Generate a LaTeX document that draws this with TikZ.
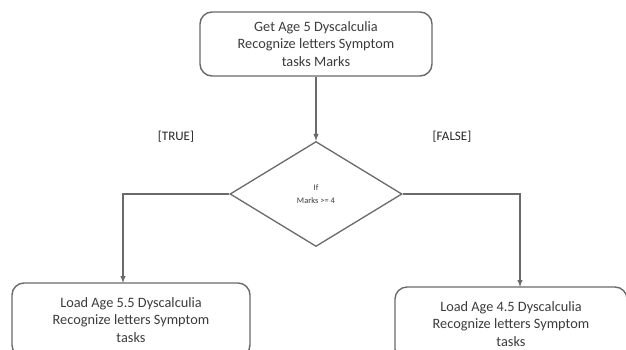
\documentclass[tikz,border=0pt]{standalone}
\usepackage{fontspec}
\setmainfont{Carlito}
\usetikzlibrary{shapes.geometric,arrows}

\definecolor{linegray}{HTML}{6A6A6A}
\definecolor{textgray}{HTML}{3C3C3C}

\tikzset{
  stepbox/.style={draw=linegray, line width=1.4pt, rounded corners=12pt,
    align=center, text=textgray, font=\fontsize{14.3}{17.5}\selectfont,
    inner sep=3pt},
  decision/.style={draw=linegray, line width=1.3pt, diamond, aspect=1.64,
    inner sep=0pt, minimum width=172pt, minimum height=105pt,
    align=center, text=textgray, font=\fontsize{8.5}{13}\selectfont},
  branch/.style={text=black!85, font=\fontsize{13}{15}\selectfont},
  flow/.style={draw=linegray, line width=1.4pt, -latex}
}

\begin{document}
\begin{tikzpicture}[x=1pt, y=-1pt]
  \useasboundingbox (0,0) rectangle (626,349);
  \clip (0,0) rectangle (626,349);
  \fill[white] (0,0) rectangle (626,349);

  \node[stepbox, minimum width=232pt, minimum height=64pt] (get) at (316,44)
    {Get Age 5 Dyscalculia\\Recognize letters Symptom\\tasks Marks};
  \node[decision] (cond) at (316,194) {If\\Marks >= 4};
  \node[stepbox, minimum width=238pt, minimum height=74pt] (load55) at (131,320)
    {Load Age 5.5 Dyscalculia\\Recognize letters Symptom\\tasks};
  \node[stepbox, minimum width=232pt, minimum height=74pt] (load45) at (511,324)
    {Load Age 4.5 Dyscalculia\\Recognize letters Symptom\\tasks};

  \node[branch] (true) at (176,137) {[TRUE]};
  \node[branch] (false) at (452,137) {[FALSE]};

  \coordinate (tl) at (123,283);
  \coordinate (tr) at (520,287);

  \draw[flow] (get) -- (cond);
  \draw[flow] (cond.west) -| (tl);
  \draw[flow] (cond.east) -| (tr);
\end{tikzpicture}
\end{document}
